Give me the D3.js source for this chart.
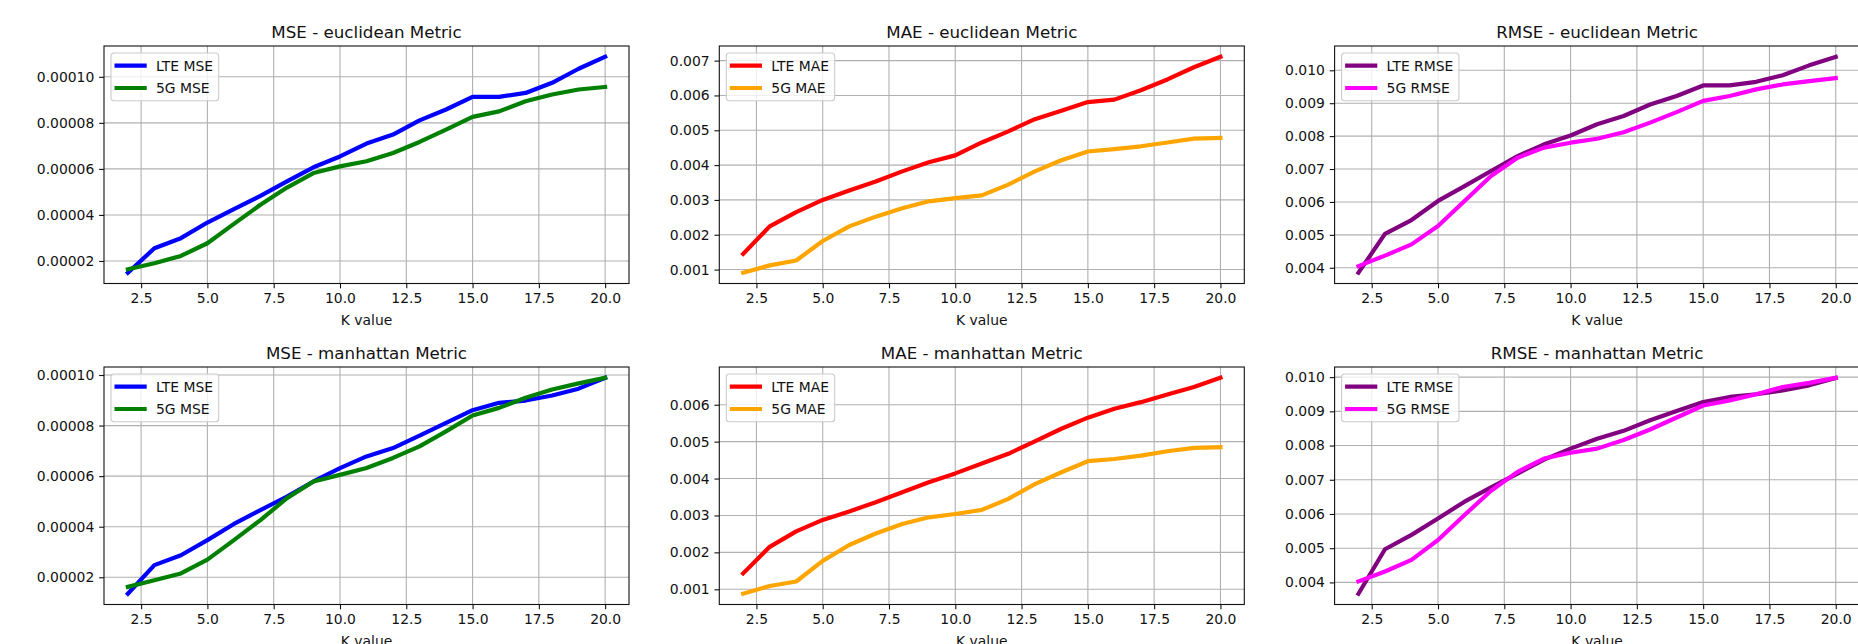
<!DOCTYPE html>
<html>
<head>
<meta charset="utf-8">
<script src="https://cdn.jsdelivr.net/npm/d3@7"></script>
<style>
	body { margin: 0; background: #fff; }
	svg text { font-family: "DejaVu Sans", sans-serif; }
</style>
</head>
<body>
<svg id="chart"></svg>
<script>
// K values on the x axis, shared by all six panels
var kValues = [2, 3, 4, 5, 6, 7, 8, 9, 10, 11, 12, 13, 14, 15, 16, 17, 18, 19, 20];
var xTickValues = [2.5, 5.0, 7.5, 10.0, 12.5, 15.0, 17.5, 20.0];

// y tick labels per panel
var mseTicks = [0.00002, 0.00004, 0.00006, 0.00008, 0.00010];
var maeEuclideanTicks = [0.001, 0.002, 0.003, 0.004, 0.005, 0.006, 0.007];
var maeManhattanTicks = [0.001, 0.002, 0.003, 0.004, 0.005, 0.006];
var rmseTicks = [0.004, 0.005, 0.006, 0.007, 0.008, 0.009, 0.010];

// euclidean metric
var lteMseEuclidean = [0.0000149, 0.0000255, 0.0000299, 0.0000367, 0.0000425, 0.0000483, 0.0000546, 0.0000607, 0.0000654, 0.0000710,
	0.0000749, 0.0000811, 0.0000858, 0.0000913, 0.0000913, 0.0000930, 0.0000974, 0.0001035, 0.0001087];
var fiveGMseEuclidean = [0.0000164, 0.0000190, 0.0000222, 0.0000277, 0.0000361, 0.0000444, 0.0000519, 0.0000582, 0.0000611, 0.0000633,
	0.0000669, 0.0000717, 0.0000771, 0.0000826, 0.0000850, 0.0000894, 0.0000923, 0.0000945, 0.0000956];
var lteMaeEuclidean = [0.00145, 0.00224, 0.00265, 0.00300, 0.00327, 0.00353, 0.00382, 0.00408, 0.00428, 0.00465,
	0.00497, 0.00532, 0.00556, 0.00581, 0.00588, 0.00615, 0.00646, 0.00681, 0.00711];
var fiveGMaeEuclidean = [0.00091, 0.00112, 0.00126, 0.00182, 0.00224, 0.00252, 0.00276, 0.00296, 0.00305, 0.00313,
	0.00344, 0.00382, 0.00414, 0.00439, 0.00446, 0.00454, 0.00465, 0.00476, 0.00478];
var lteRmseEuclidean = [0.00385, 0.00503, 0.00545, 0.00603, 0.00648, 0.00694, 0.00739, 0.00775, 0.00802, 0.00836,
	0.00861, 0.00896, 0.00922, 0.00954, 0.00954, 0.00965, 0.00985, 0.01015, 0.01041];
var fiveGRmseEuclidean = [0.00405, 0.00437, 0.00471, 0.00527, 0.00603, 0.00679, 0.00734, 0.00765, 0.00780, 0.00792,
	0.00812, 0.00841, 0.00873, 0.00907, 0.00922, 0.00942, 0.00957, 0.00967, 0.00976];

// manhattan metric
var lteMseManhattan = [0.0000135, 0.0000248, 0.0000287, 0.0000347, 0.0000411, 0.0000466, 0.0000519, 0.0000579, 0.0000632, 0.0000678,
	0.0000711, 0.0000760, 0.0000811, 0.0000861, 0.0000890, 0.0000899, 0.0000919, 0.0000946, 0.0000989];
var fiveGMseManhattan = [0.0000162, 0.0000188, 0.0000215, 0.0000270, 0.0000347, 0.0000426, 0.0000513, 0.0000579, 0.0000605, 0.0000632,
	0.0000672, 0.0000718, 0.0000777, 0.0000840, 0.0000870, 0.0000910, 0.0000943, 0.0000967, 0.0000989];
var lteMaeManhattan = [0.00143, 0.00215, 0.00257, 0.00288, 0.00311, 0.00336, 0.00363, 0.00390, 0.00414, 0.00441,
	0.00467, 0.00501, 0.00535, 0.00565, 0.00589, 0.00607, 0.00628, 0.00648, 0.00673];
var fiveGMaeManhattan = [0.00088, 0.00109, 0.00121, 0.00177, 0.00220, 0.00251, 0.00277, 0.00295, 0.00304, 0.00315,
	0.00345, 0.00385, 0.00417, 0.00447, 0.00453, 0.00462, 0.00474, 0.00483, 0.00485];
var lteRmseManhattan = [0.00367, 0.00497, 0.00539, 0.00587, 0.00636, 0.00678, 0.00718, 0.00759, 0.00791, 0.00820,
	0.00843, 0.00874, 0.00901, 0.00927, 0.00942, 0.00950, 0.00961, 0.00976, 0.00997];
var fiveGRmseManhattan = [0.00403, 0.00432, 0.00466, 0.00524, 0.00597, 0.00668, 0.00723, 0.00762, 0.00779, 0.00791,
	0.00816, 0.00847, 0.00882, 0.00917, 0.00932, 0.00950, 0.00971, 0.00983, 0.00998];

var chart = (function () {
	var figWidth = 1858, figHeight = 644;
	var panelWidth = 525, panelHeight = 237.5;
	var panelLefts = [104, 719.3, 1334.6],
		panelTops = [46, 367];
	var fontSize = 13.9, titleSize = 16.7;
	var lineWidth = 4.2, thinWidth = 1.1;
	var tickLength = 4.86, tickPad = 4.86;

	function init() {
		var svg = d3.select("#chart")
			.attr("width", figWidth)
			.attr("height", figHeight);

		// one row per metric, one column per error measure
		var panels = [
			{ title: "MSE - euclidean Metric", yLabel: "MSE", ticks: mseTicks, fmt: ".5f",
				series: [{ name: "LTE MSE", values: lteMseEuclidean, color: "blue" }, { name: "5G MSE", values: fiveGMseEuclidean, color: "green" }] },
			{ title: "MAE - euclidean Metric", yLabel: "MAE", ticks: maeEuclideanTicks, fmt: ".3f",
				series: [{ name: "LTE MAE", values: lteMaeEuclidean, color: "red" }, { name: "5G MAE", values: fiveGMaeEuclidean, color: "orange" }] },
			{ title: "RMSE - euclidean Metric", yLabel: "RMSE", ticks: rmseTicks, fmt: ".3f",
				series: [{ name: "LTE RMSE", values: lteRmseEuclidean, color: "purple" }, { name: "5G RMSE", values: fiveGRmseEuclidean, color: "magenta" }] },
			{ title: "MSE - manhattan Metric", yLabel: "MSE", ticks: mseTicks, fmt: ".5f",
				series: [{ name: "LTE MSE", values: lteMseManhattan, color: "blue" }, { name: "5G MSE", values: fiveGMseManhattan, color: "green" }] },
			{ title: "MAE - manhattan Metric", yLabel: "MAE", ticks: maeManhattanTicks, fmt: ".3f",
				series: [{ name: "LTE MAE", values: lteMaeManhattan, color: "red" }, { name: "5G MAE", values: fiveGMaeManhattan, color: "orange" }] },
			{ title: "RMSE - manhattan Metric", yLabel: "RMSE", ticks: rmseTicks, fmt: ".3f",
				series: [{ name: "LTE RMSE", values: lteRmseManhattan, color: "purple" }, { name: "5G RMSE", values: fiveGRmseManhattan, color: "magenta" }] }
		];

		panels.forEach(function (p, i) {
			buildPanel(svg, p, panelLefts[i % 3], panelTops[Math.floor(i / 3)]);
		});
	}

	// matplotlib style auto limits: data extent plus 5% on each side
	function paddedExtent(values) {
		var ext = d3.extent(values);
		var pad = (ext[1] - ext[0]) * 0.05;
		return [ext[0] - pad, ext[1] + pad];
	}

	function buildPanel(svg, panel, left, top) {
		var allValues = [];
		panel.series.forEach(function (s) { allValues = allValues.concat(s.values); });

		var x = d3.scaleLinear().domain(paddedExtent(kValues)).range([left, left + panelWidth]);
		var y = d3.scaleLinear().domain(paddedExtent(allValues)).range([top + panelHeight, top]);
		var yTicks = panel.ticks.filter(function (t) { return t >= y.domain()[0] && t <= y.domain()[1]; });

		var g = svg.append("g").attr("class", "panel");

		// grid first so the lines sit on top
		var grid = g.append("g").attr("stroke", "#b0b0b0").attr("stroke-width", thinWidth);
		grid.selectAll(".vgrid").data(xTickValues).enter().append("line")
			.attr("x1", function (d) { return x(d); }).attr("x2", function (d) { return x(d); })
			.attr("y1", top).attr("y2", top + panelHeight);
		grid.selectAll(".hgrid").data(yTicks).enter().append("line")
			.attr("x1", left).attr("x2", left + panelWidth)
			.attr("y1", function (d) { return y(d); }).attr("y2", function (d) { return y(d); });

		var line = d3.line()
			.x(function (d, i) { return x(kValues[i]); })
			.y(function (d) { return y(d); });

		g.selectAll(".series").data(panel.series).enter().append("path")
			.attr("d", function (s) { return line(s.values); })
			.attr("fill", "none")
			.attr("stroke", function (s) { return s.color; })
			.attr("stroke-width", lineWidth)
			.attr("stroke-linejoin", "round")
			.attr("stroke-linecap", "square");

		// axes
		var xAxis = g.append("g")
			.attr("transform", "translate(0," + (top + panelHeight) + ")")
			.call(d3.axisBottom(x).tickValues(xTickValues).tickFormat(d3.format(".1f"))
				.tickSize(tickLength).tickPadding(tickPad).tickSizeOuter(0));
		var yAxis = g.append("g")
			.attr("transform", "translate(" + left + ",0)")
			.call(d3.axisLeft(y).tickValues(yTicks).tickFormat(d3.format(panel.fmt))
				.tickSize(tickLength).tickPadding(tickPad).tickSizeOuter(0));
		[xAxis, yAxis].forEach(function (a) {
			a.select(".domain").remove();
			a.attr("font-family", "DejaVu Sans").attr("font-size", fontSize).attr("color", "#111");
			a.selectAll(".tick line").attr("stroke-width", thinWidth);
		});

		// frame
		g.append("rect")
			.attr("x", left).attr("y", top)
			.attr("width", panelWidth).attr("height", panelHeight)
			.attr("fill", "none").attr("stroke", "#111").attr("stroke-width", thinWidth);

		// titles and labels
		g.append("text")
			.attr("x", left + panelWidth / 2).attr("y", top - 8.3)
			.attr("text-anchor", "middle").attr("font-size", titleSize).attr("fill", "#111")
			.text(panel.title);
		g.append("text")
			.attr("x", left + panelWidth / 2).attr("y", top + panelHeight + 41)
			.attr("text-anchor", "middle").attr("font-size", fontSize).attr("fill", "#111")
			.text("K value");
		var tickLeft = yAxis.node().getBBox().x;
		var labelX = tickLeft - 13;
		g.append("text")
			.attr("transform", "translate(" + labelX + "," + (top + panelHeight / 2) + ") rotate(-90)")
			.attr("text-anchor", "middle").attr("font-size", fontSize).attr("fill", "#111")
			.text(panel.yLabel);

		buildLegend(g, panel.series, left + 7, top + 7);
	}

	function buildLegend(g, series, lx, ly) {
		var legend = g.append("g").attr("transform", "translate(" + lx + "," + ly + ")");
		var box = legend.append("rect");
		var rowGap = 22.3, firstRow = 12.7;

		var rows = legend.selectAll(".row").data(series).enter().append("g")
			.attr("transform", function (d, i) { return "translate(0," + (firstRow + i * rowGap) + ")"; });
		rows.append("line")
			.attr("x1", 5.6).attr("x2", 33.6)
			.attr("stroke", function (d) { return d.color; })
			.attr("stroke-width", lineWidth)
			.attr("stroke-linecap", "square");
		rows.append("text")
			.attr("x", 45).attr("y", 5)
			.attr("font-size", fontSize).attr("fill", "#111")
			.text(function (d) { return d.name; });

		var textWidth = 0;
		rows.selectAll("text").each(function () {
			textWidth = Math.max(textWidth, this.getComputedTextLength());
		});
		box.attr("x", 0).attr("y", 0)
			.attr("width", 45 + textWidth + 5.6)
			.attr("height", 47.7)
			.attr("rx", 3).attr("ry", 3)
			.attr("fill", "#fff").attr("fill-opacity", 0.8)
			.attr("stroke", "#cccccc").attr("stroke-width", thinWidth);
	}

	return {
		init: init
	};
}());

chart.init();
</script>
</body>
</html>
